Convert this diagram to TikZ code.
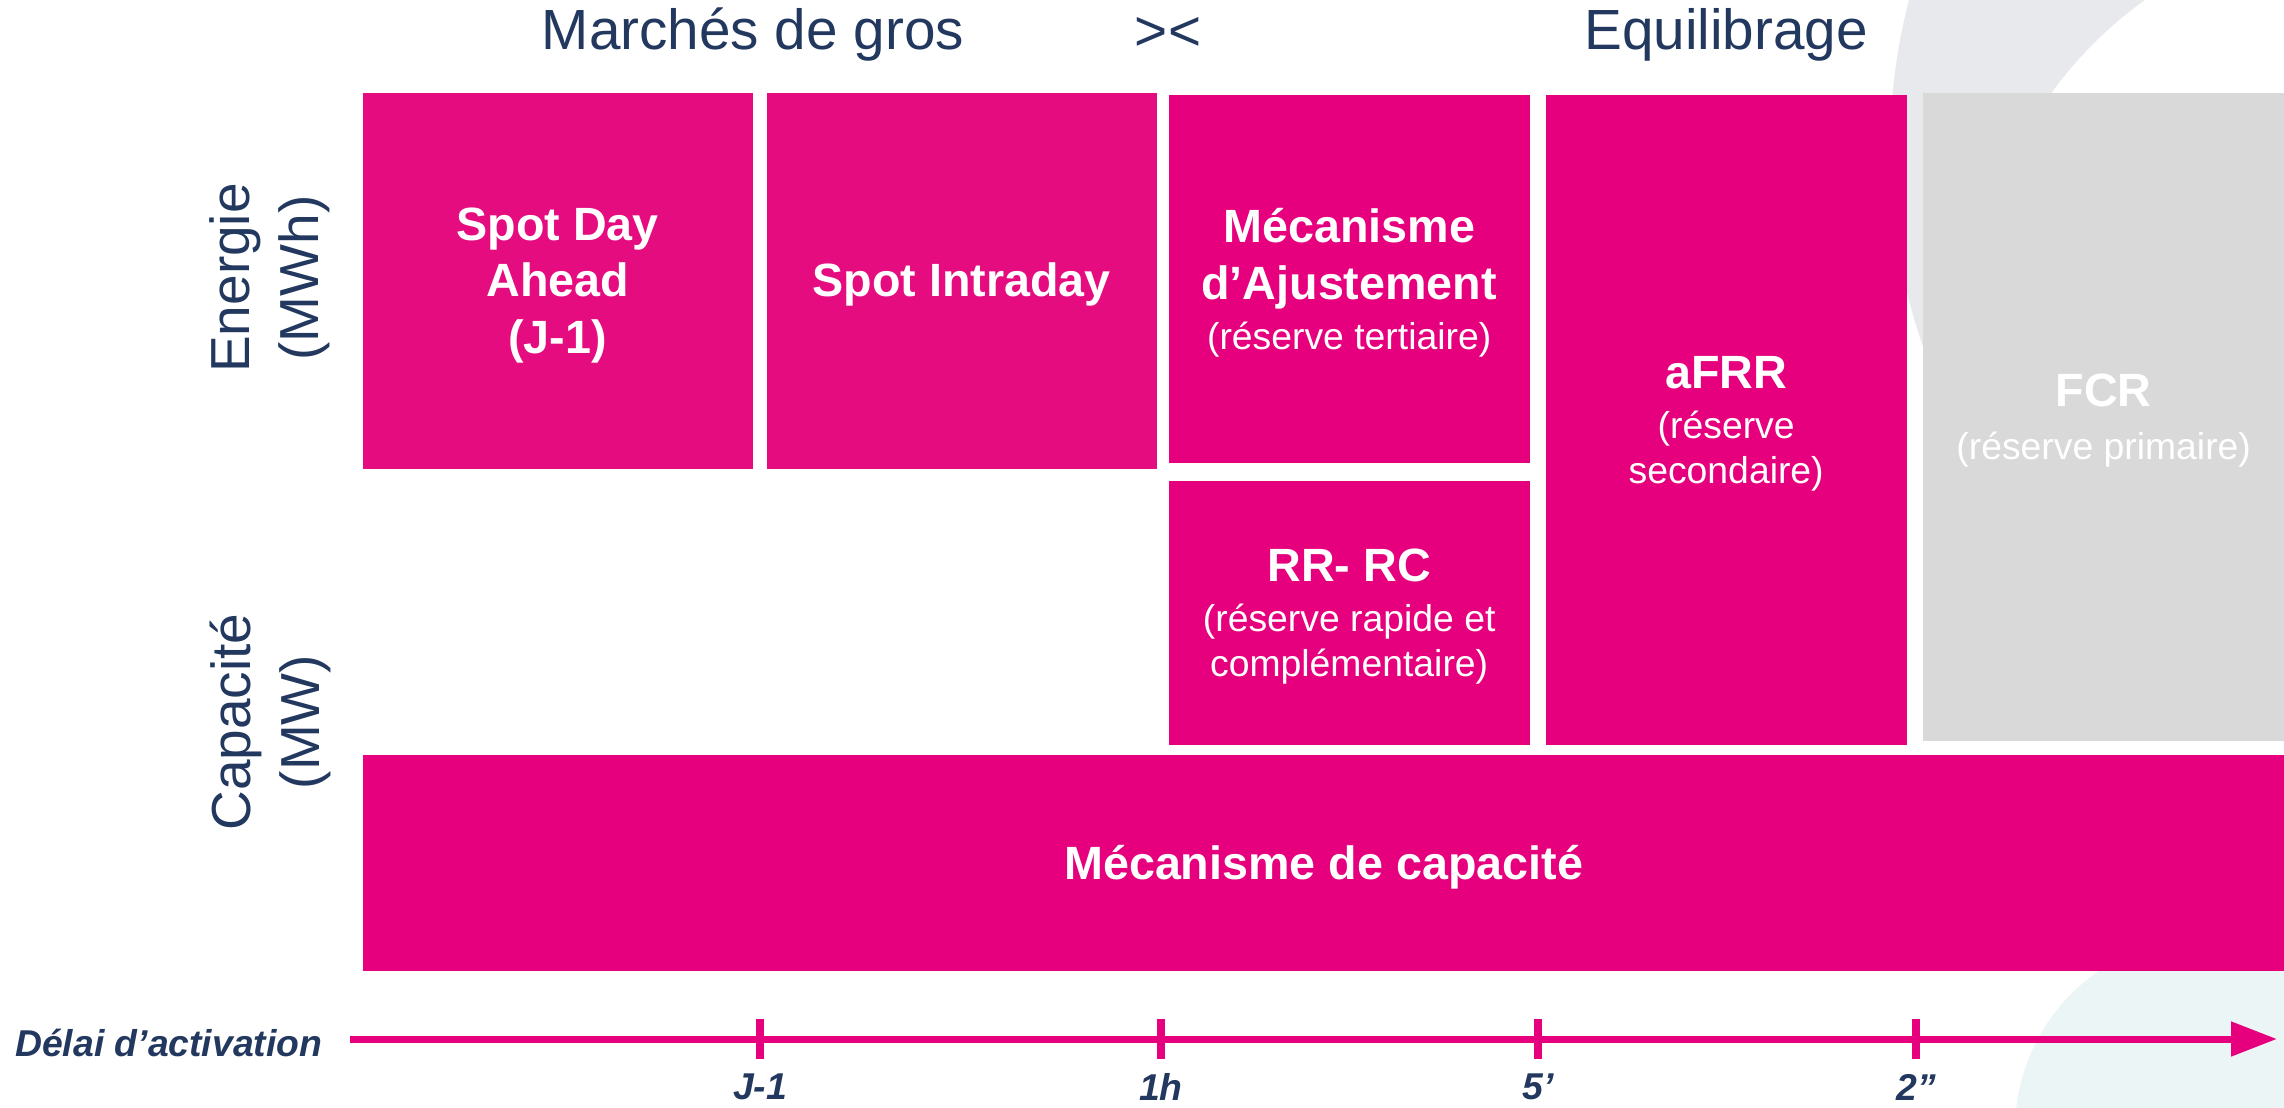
\documentclass[tikz,border=0pt]{standalone}
\usepackage{fontspec}
\setmainfont{Liberation Sans}
\usetikzlibrary{arrows.meta}

\definecolor{mktpink}{RGB}{230,0,126}
\definecolor{spotpink}{RGB}{229,12,128}
\definecolor{fcrgray}{RGB}{217,217,217}
\definecolor{navy}{RGB}{35,56,94}
\definecolor{decogray}{RGB}{232,233,237}
\definecolor{decoteal}{RGB}{236,245,245}

\newcommand{\subtxt}{\fontsize{11.2}{13}\selectfont\mdseries}

\begin{document}
\begin{tikzpicture}[%
    x=0.3pt, y=-0.3pt,
    mktbox/.style={
        fill=mktpink,
        text=white,
        inner sep=0pt,
        anchor=north west,
        align=center,
        text depth=-2.4pt,
        font=\fontsize{14}{17}\selectfont\bfseries
        },
    headline/.style={text=navy, font=\fontsize{17}{20}\selectfont},
    sidelabel/.style={%
        text=navy,
        rotate=90,
        align=center,
        font=\fontsize{16.5}{20.7}\selectfont},
    ticklabel/.style={text=navy, inner sep=0pt, font=\fontsize{11.2}{13}\selectfont\bfseries\itshape},
    axisline/.style={mktpink, line width=2.1pt},
]

\useasboundingbox (0,0) rectangle (2284,1108);

% faint background shapes
\fill[decogray] (2490,150) circle[radius=600];
\fill[white] (2380,330) circle[radius=405];
\fill[decoteal] (2208,1130) circle[radius=193];

\node[headline] (gros) at (753,35) {Marchés de gros};
\node[headline] (sep) at (1168,34) {><};
\node[headline] (equil) at (1726,35) {Equilibrage};

\node[sidelabel] (energie) at (270,278) {Energie\\(MWh)};
\node[sidelabel] (capacite) at (270,722) {Capacité\\(MW)};

\node[mktbox, fill=spotpink, minimum width=117pt, minimum height=112.8pt] (dayahead)
    at (362,92) {Spot Day\\Ahead\\(J-1)};
\node[mktbox, fill=spotpink, minimum width=117pt, minimum height=112.8pt, text depth=0.4pt] (intraday)
    at (766,92) {Spot Intraday};
\node[mktbox, minimum width=108.3pt, minimum height=110.4pt] (ajust)
    at (1168,94) {Mécanisme\\d’Ajustement\\[-2pt]{\subtxt (réserve tertiaire)}};
\node[mktbox, minimum width=108.3pt, minimum height=79.2pt] (rrrc)
    at (1168,480) {RR- RC\\[-2pt]{\subtxt (réserve rapide et}\\[-3.5pt]{\subtxt complémentaire)}};
\node[mktbox, minimum width=108.3pt, minimum height=195pt] (afrr)
    at (1545,94) {aFRR\\[-2pt]{\subtxt (réserve}\\[-3.5pt]{\subtxt secondaire)}};
\node[mktbox, fill=fcrgray, minimum width=108.6pt, minimum height=194.4pt] (fcr)
    at (1922,92) {FCR\\[-1pt]{\subtxt (réserve primaire)}};
\node[mktbox, minimum width=576.6pt, minimum height=64.8pt, text depth=-1.6pt] (capa)
    at (362,754) {Mécanisme de capacité};

% time axis
\coordinate (axstart) at (350,1039);
\coordinate (axend) at (2277,1039);
\draw[axisline, -{Triangle[length=13.8pt,width=10pt]}] (axstart) -- (axend);
\node[ticklabel, anchor=east] (delai) at (323,1043) {Délai d’activation};
\foreach \tx/\tname/\tlab in {760/j/J-1, 1161/h/1h, 1538/min/5’, 1916/sec/2”}{
    \draw[axisline, line width=2.4pt] (\tx,1019) -- (\tx,1059);
    \node[ticklabel] (tick\tname) at (\tx,1087) {\tlab};
}
\end{tikzpicture}
\end{document}
